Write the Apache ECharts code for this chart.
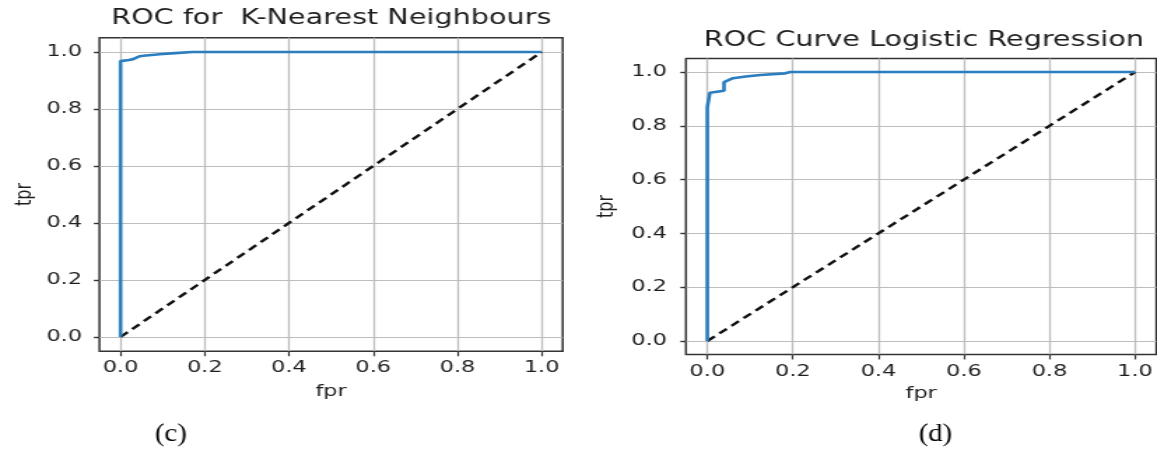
<!DOCTYPE html>
<html>
<head>
<meta charset="utf-8">
<script src="https://cdn.jsdelivr.net/npm/echarts@6/dist/echarts.min.js"></script>
<style>
  html, body { margin: 0; padding: 0; background: #fff; overflow: hidden; }
  #chart { width: 827px; height: 450px; transform: scaleX(1.399); transform-origin: 0 0; }
</style>
</head>
<body>
<div id="chart"></div>
<script>
// ---- data ----
const tickValues = [0, 0.2, 0.4, 0.6, 0.8, 1.0];
const tickLabels = ['0.0', '0.2', '0.4', '0.6', '0.8', '1.0'];

const diagFpr = [0, 1];
const diagTpr = [0, 1];

// (c) K-Nearest Neighbours ROC
const knnFpr = [0, 0, 0.02, 0.03, 0.045, 0.06, 0.1, 0.13, 0.17, 1.0];
const knnTpr = [0, 0.968, 0.972, 0.975, 0.985, 0.988, 0.993, 0.996, 1.0, 1.0];

// (d) Logistic Regression ROC
const lrFpr = [0, 0, 0.006, 0.006, 0.039, 0.039, 0.045, 0.06, 0.09, 0.124, 0.124, 0.182, 0.194, 1.0];
const lrTpr = [0, 0.869, 0.875, 0.923, 0.930, 0.962, 0.965, 0.977, 0.983, 0.989, 0.995, 0.995, 1.0, 1.0];

const titles = ['ROC for  K-Nearest Neighbours', 'ROC Curve Logistic Regression'];
const xName = 'fpr';
const yName = 'tpr';
const panelLabels = ['(c)', '(d)'];

// ---- chart ----
const FONT = 'DejaVu Sans';
const TXT = '#1e1e1e';
const zip = (a, b) => a.map((v, i) => [v, b[i]]);
const fmt = v => {
  const i = tickValues.findIndex(t => Math.abs(t - v) < 1e-9);
  return i >= 0 ? tickLabels[i] : '';
};

function xAxisCfg(gi, nameGap) {
  return {
    type: 'value', gridIndex: gi, min: -0.05, max: 1.05,
    name: xName, nameLocation: 'middle', nameGap: nameGap,
    nameTextStyle: { fontFamily: FONT, fontSize: 16, color: TXT },
    axisLine: { show: false, onZero: false },
    axisTick: { show: true, customValues: tickValues, length: 5, inside: false,
                lineStyle: { color: '#333', width: 1.2 } },
    axisLabel: { customValues: tickValues, formatter: fmt, margin: 9,
                 fontFamily: FONT, fontSize: 16, color: TXT },
    splitLine: { show: true, lineStyle: { color: '#bdbdbd', width: 1.3 } }
  };
}
function yAxisCfg(gi, nameGap, margin) {
  return {
    type: 'value', gridIndex: gi, min: -0.05, max: 1.05,
    name: yName, nameLocation: 'middle', nameGap: nameGap, nameRotate: 90,
    nameTextStyle: { fontFamily: FONT, fontSize: 16, color: TXT },
    axisLine: { show: false, onZero: false },
    axisTick: { show: true, customValues: tickValues, length: 4, inside: false,
                lineStyle: { color: '#333', width: 1.4 } },
    axisLabel: { customValues: tickValues, formatter: fmt, margin: margin,
                 fontFamily: FONT, fontSize: 16, color: TXT },
    splitLine: { show: true, lineStyle: { color: '#bdbdbd', width: 1.1 } }
  };
}

const chart = echarts.init(document.getElementById('chart'), null, { renderer: 'canvas' });
chart.setOption({
  animation: false,
  backgroundColor: '#fff',
  title: [
    { text: titles[0], left: 236.8, top: 8, textAlign: 'center', padding: 0,
      textStyle: { fontFamily: FONT, fontSize: 20.5, fontWeight: 'normal', color: TXT } },
    { text: titles[1], left: 660.4, top: 30, textAlign: 'center', padding: 0,
      textStyle: { fontFamily: FONT, fontSize: 20.5, fontWeight: 'normal', color: TXT } }
  ],
  grid: [
    { left: 71.1, top: 37.75, width: 331.1, height: 313.5, show: true,
      borderColor: '#333', borderWidth: 1.5, backgroundColor: 'transparent' },
    { left: 490.3, top: 58.55, width: 339.4, height: 295.9, show: true,
      borderColor: '#333', borderWidth: 1.5, backgroundColor: 'transparent' }
  ],
  xAxis: [xAxisCfg(0, 33), xAxisCfg(1, 31.5)],
  yAxis: [yAxisCfg(0, 45, 12.5), yAxisCfg(1, 48, 13.5)],
  series: [
    { type: 'line', xAxisIndex: 0, yAxisIndex: 0, data: zip(diagFpr, diagTpr), showSymbol: false,
      lineStyle: { color: '#111', width: 2.4, type: [7, 4.5] }, z: 2 },
    { type: 'line', xAxisIndex: 0, yAxisIndex: 0, data: zip(knnFpr, knnTpr), showSymbol: false,
      lineStyle: { color: '#2a7dbf', width: 2.6 }, z: 3 },
    { type: 'line', xAxisIndex: 1, yAxisIndex: 1, data: zip(diagFpr, diagTpr), showSymbol: false,
      lineStyle: { color: '#111', width: 2.4, type: [7, 4.5] }, z: 2 },
    { type: 'line', xAxisIndex: 1, yAxisIndex: 1, data: zip(lrFpr, lrTpr), showSymbol: false,
      lineStyle: { color: '#2a7dbf', width: 2.6 }, z: 3 }
  ],
  graphic: [
    { type: 'text', x: 122.1, y: 434, scaleX: 1.1 / 1.399,
      style: { text: panelLabels[0], font: '26px "Liberation Serif"', fill: '#000',
               textAlign: 'center', textVerticalAlign: 'middle' } },
    { type: 'text', x: 668.6, y: 434, scaleX: 1.1 / 1.399,
      style: { text: panelLabels[1], font: '26px "Liberation Serif"', fill: '#000',
               textAlign: 'center', textVerticalAlign: 'middle' } }
  ]
});
</script>
</body>
</html>
